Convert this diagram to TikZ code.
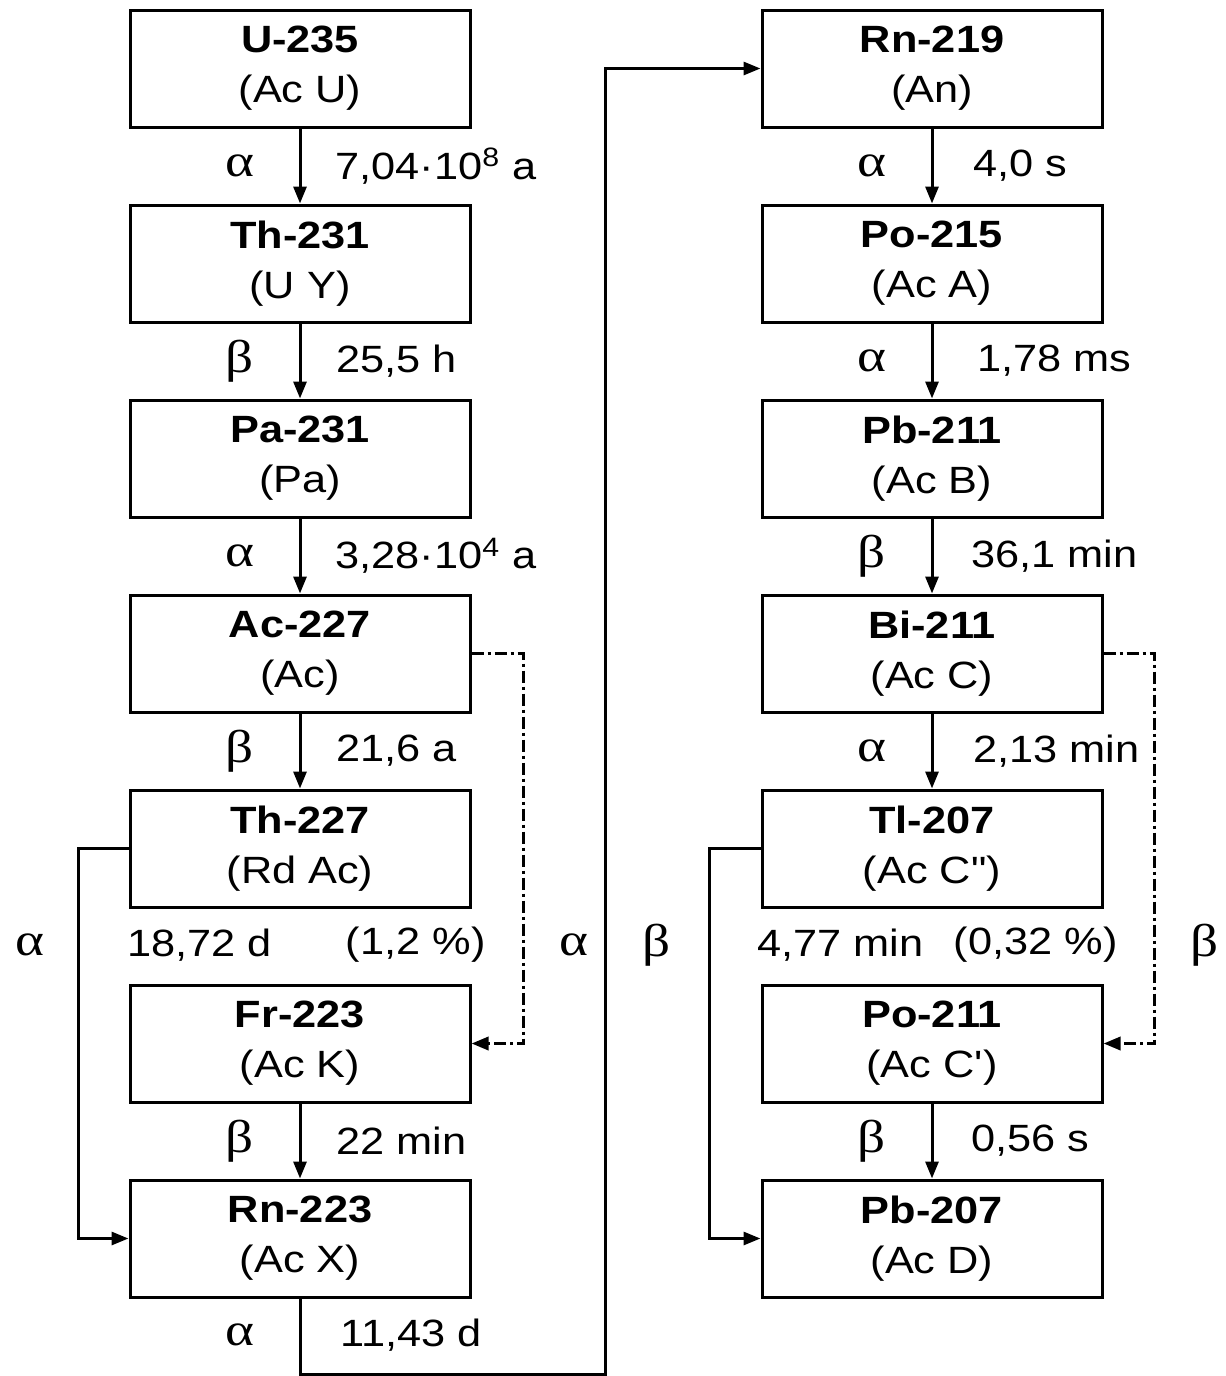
\documentclass[tikz,border=0pt]{standalone}
\usepackage{fontspec}
\setmainfont{Liberation Sans}[Ligatures=TeXOff, FakeStretch=1.14]
\newfontfamily\greekfont{Liberation Serif}[FakeStretch=1.2]
\usetikzlibrary{arrows.meta}

\begin{document}
\begin{tikzpicture}[
  x=0.5pt, y=-0.5pt,
  every node/.style={font=\fontsize{19}{25}\selectfont},
  nuclide/.style={draw, line width=1.5pt, minimum width=170pt, minimum height=58.5pt, align=center, inner sep=0pt},
  flow/.style={-{Triangle[length=8.5pt, width=6.5pt]}, line width=1.5pt},
  branch/.style={flow, line width=1.7pt, dash pattern=on 6pt off 2pt on 1.5pt off 2pt},
  decay/.style={inner sep=0pt, font=\fontsize{23}{24}\selectfont\greekfont},
  halflife/.style={inner sep=0pt, anchor=west}
]
\useasboundingbox (0,0) rectangle (1226,1376);

% left column
\node[nuclide] (u235)  at (300,68.5)   {\textbf{U-235}\\(Ac U)};
\node[nuclide] (th231) at (300,263.5)  {\textbf{Th-231}\\(U Y)};
\node[nuclide] (pa231) at (300,458.5)  {\textbf{Pa-231}\\(Pa)};
\node[nuclide] (ac227) at (300,653.5)  {\textbf{Ac-227}\\(Ac)};
\node[nuclide] (th227) at (300,848.5)  {\textbf{Th-227}\\(Rd Ac)};
\node[nuclide] (fr223) at (300,1043.5) {\textbf{Fr-223}\\(Ac K)};
\node[nuclide] (rn223) at (300,1238.5) {\textbf{Rn-223}\\(Ac X)};

% right column
\node[nuclide] (rn219) at (932,68.5)   {\textbf{Rn-219}\\(An)};
\node[nuclide] (po215) at (932,263.5)  {\textbf{Po-215}\\(Ac A)};
\node[nuclide] (pb211) at (932,458.5)  {\textbf{Pb-211}\\(Ac B)};
\node[nuclide] (bi211) at (932,653.5)  {\textbf{Bi-211}\\(Ac C)};
\node[nuclide] (tl207) at (932,848.5)  {\textbf{Tl-207}\\(Ac C")};
\node[nuclide] (po211) at (932,1043.5) {\textbf{Po-211}\\(Ac C')};
\node[nuclide] (pb207) at (932,1238.5) {\textbf{Pb-207}\\(Ac D)};

\draw[flow] (u235) -- node[midway, decay, xshift=-30pt] {α}
  node[midway, halflife, xshift=17pt] {7,04·10\textsuperscript{8} a} (th231);
\draw[flow] (th231) -- node[midway, decay, xshift=-30pt] {β}
  node[midway, halflife, xshift=17.5pt] {25,5 h} (pa231);
\draw[flow] (pa231) -- node[midway, decay, xshift=-30pt] {α}
  node[midway, halflife, xshift=17pt] {3,28·10\textsuperscript{4} a} (ac227);
\draw[flow] (ac227) -- node[midway, decay, xshift=-30pt] {β}
  node[midway, halflife, xshift=17.5pt] {21,6 a} (th227);
\draw[flow] (fr223) -- node[midway, decay, xshift=-30pt] {β}
  node[midway, halflife, xshift=17.5pt] {22 min} (rn223);

\draw[flow] (rn219) -- node[midway, decay, xshift=-30pt] {α}
  node[midway, halflife, xshift=20pt] {4,0 s} (po215);
\draw[flow] (po215) -- node[midway, decay, xshift=-30pt] {α}
  node[midway, halflife, xshift=22pt] {1,78 ms} (pb211);
\draw[flow] (pb211) -- node[midway, decay, xshift=-30pt] {β}
  node[midway, halflife, xshift=19pt] {36,1 min} (bi211);
\draw[flow] (bi211) -- node[midway, decay, xshift=-30pt] {α}
  node[midway, halflife, xshift=20pt] {2,13 min} (tl207);
\draw[flow] (po211) -- node[midway, decay, xshift=-30pt] {β}
  node[midway, halflife, xshift=19pt] {0,56 s} (pb207);

% branchings
\draw[flow] (th227.west) -- ++(-50,0) |- (rn223.west);
\draw[branch] (ac227.east) -- ++(52,0) |- (fr223.east);
\draw[flow] (tl207.west) -- ++(-51,0) |- (pb207.west);
\draw[branch] (bi211.east) -- ++(51,0) |- (po211.east);

\node[decay] (lalpha) at (30,945) {α};
\node[halflife] (thtime) at (127,945) {18,72 d};
\node[halflife, anchor=east] (thshare) at (486,945) {(1,2 \%)};
\node[decay] (ralpha) at (574,945) {α};
\node[decay] (lbeta) at (657,945) {β};
\node[halflife] (tltime) at (757,945) {4,77 min};
\node[halflife, anchor=east] (tlshare) at (1118,945) {(0,32 \%)};
\node[decay] (rbeta) at (1205,945) {β};

% link between the columns
\coordinate (turn) at (605,1374.5);
\draw[flow] (rn223.south) |- (turn) |- (rn219.west);
\node[decay] (rnalpha) at (240,1335) {α};
\node[halflife] (rntime) at (340,1335) {11,43 d};

\end{tikzpicture}
\end{document}
